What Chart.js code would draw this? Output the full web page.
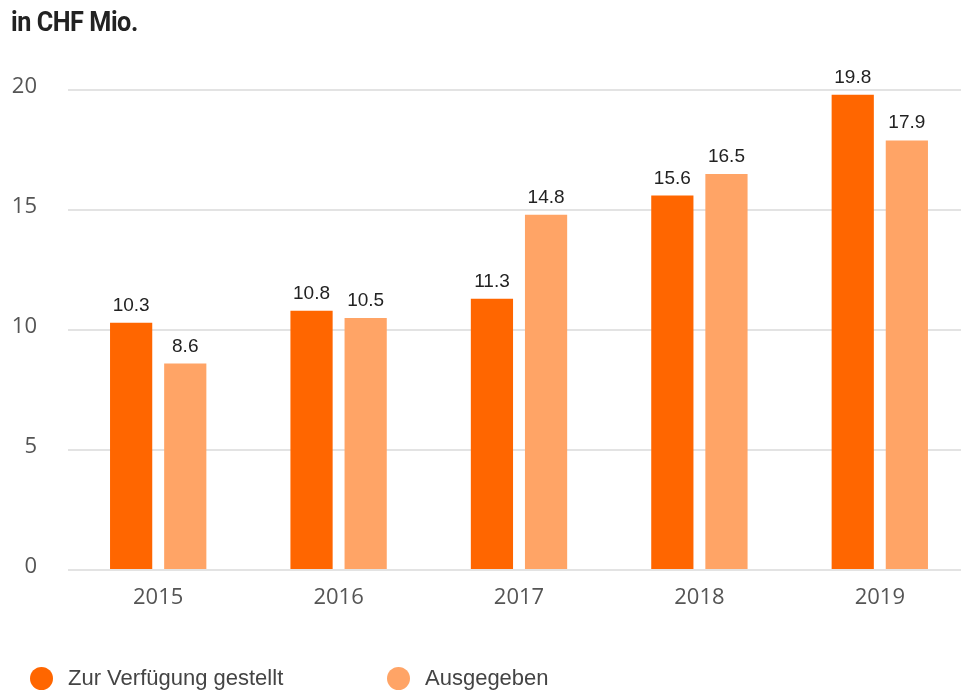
<!DOCTYPE html>
<html>
<head>
<meta charset="utf-8">
<script src="https://cdn.jsdelivr.net/npm/chart.js@4"></script>
<style>
  html, body { margin: 0; padding: 0; background: #fff; overflow: hidden; }
  #wrap { position: relative; width: 961px; height: 692px; overflow: hidden; }
  #title {
    position: absolute; left: 11px; top: 5px;
    font-family: "Liberation Sans Narrow", "Roboto", sans-serif;
    font-weight: bold; font-size: 28px; color: #222; letter-spacing: -0.5px;
    transform: scaleX(0.9); transform-origin: left top;
  }
  #box { position: absolute; left: 0; top: 0; width: 970px; height: 692px; }
  #legend { position: absolute; left: 30px; top: 665px; font-family: "Liberation Sans", sans-serif; font-size: 22px; color: #444; }
  .item { position: absolute; top: 0; white-space: nowrap; }
  .dot { position: absolute; top: 2px; width: 23px; height: 23px; border-radius: 50%; }
  .lbl { position: absolute; left: 38px; top: 0px; }
</style>
</head>
<body>
<div id="wrap">
  <div id="box"><canvas id="myChart"></canvas></div>
  <div id="title">in CHF Mio.</div>
  <div id="legend"></div>
</div>
<script>
const years = ['2015', '2016', '2017', '2018', '2019'];
const provided = [10.3, 10.8, 11.3, 15.6, 19.8];
const spent = [8.6, 10.5, 14.8, 16.5, 17.9];
const seriesNames = ['Zur Verfügung gestellt', 'Ausgegeben'];
const seriesColors = ['#ff6600', '#ffa466'];
const legendX = [0, 357];

// value labels above each bar
const valueLabels = {
    id: 'valueLabels',
    afterDatasetsDraw(chart) {
        const ctx = chart.ctx;
        ctx.save();
        ctx.font = '19px "Liberation Sans", Arial, sans-serif';
        ctx.fillStyle = '#222';
        ctx.textAlign = 'center';
        ctx.textBaseline = 'alphabetic';
        chart.data.datasets.forEach((ds, i) => {
            chart.getDatasetMeta(i).data.forEach((bar, j) => {
                ctx.fillText(ds.data[j].toFixed(1), bar.x, bar.y - 12);
            });
        });
        ctx.restore();
    }
};

var ctx = document.getElementById('myChart');
var myChart = new Chart(ctx, {
    type: 'bar',
    data: {
        labels: years,
        datasets: [
            {
                label: seriesNames[0],
                data: provided,
                backgroundColor: seriesColors[0],
                categoryPercentage: 0.6,
                barPercentage: 0.78
            },
            {
                label: seriesNames[1],
                data: spent,
                backgroundColor: seriesColors[1],
                categoryPercentage: 0.6,
                barPercentage: 0.78
            }
        ]
    },
    options: {
        responsive: true,
        maintainAspectRatio: false,
        animation: false,
        layout: { padding: { top: 90, bottom: 72, left: 0, right: 0 } },
        plugins: {
            legend: { display: false },
            tooltip: { enabled: false }
        },
        scales: {
            x: {
                grid: { display: false },
                border: { display: false },
                ticks: {
                    color: '#555',
                    font: { family: '"Open Sans", sans-serif', size: 22 },
                    padding: 7
                },
                afterFit(scale) { scale.height = 50; }
            },
            y: {
                min: 0,
                max: 20,
                ticks: {
                    stepSize: 5,
                    color: '#555',
                    font: { family: '"Open Sans", sans-serif', size: 22 },
                    padding: 31,
                    labelOffset: -3
                },
                grid: { color: '#e3e3e3', lineWidth: 2, drawTicks: false },
                border: { display: false },
                afterFit(scale) { scale.width = 68; }
            }
        }
    },
    plugins: [valueLabels]
});

// legend built from the series
const legend = document.getElementById('legend');
seriesNames.forEach((name, i) => {
    const item = document.createElement('div');
    item.className = 'item';
    item.style.left = legendX[i] + 'px';
    item.innerHTML = '<span class="dot" style="background:' + seriesColors[i] + '"></span><span class="lbl">' + name + '</span>';
    legend.appendChild(item);
});
</script>
</body>
</html>
